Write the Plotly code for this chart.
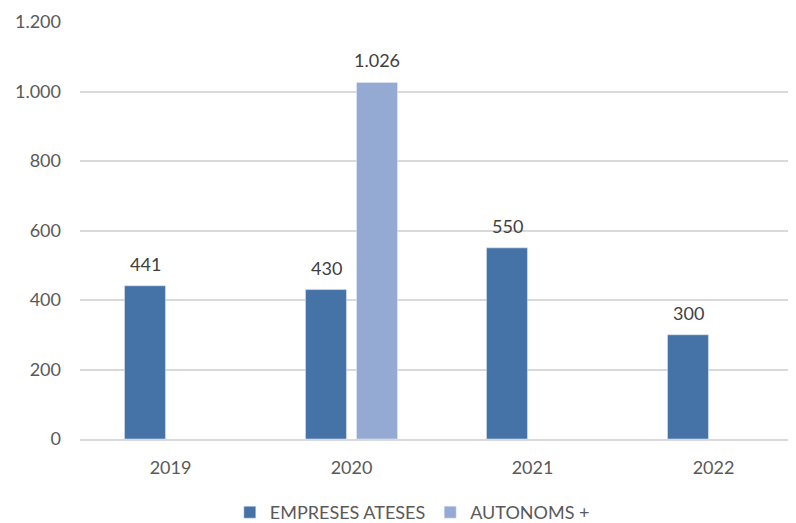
import plotly.graph_objects as go

categories = ["2019", "2020", "2021", "2022"]
empreses = [441, 430, 550, 300]
autonoms = [None, 1026, None, None]
series_names = ["EMPRESES ATESES", "AUTONOMS +"]
y_ticks = [0, 200, 400, 600, 800, 1000, 1200]

C1 = "#4673A7"
C2 = "#94AAD2"
FONT = "Lato"

def fmt(v):
    return f"{v:,}".replace(",", ".")

fig = go.Figure()
fig.add_trace(go.Bar(x=categories, y=empreses, name=series_names[0], marker_color=C1))
fig.add_trace(go.Bar(x=categories, y=autonoms, name=series_names[1], marker_color=C2))

annotations = []
for vals, shift in ((empreses, -25.5), (autonoms, 25.5)):
    for i, v in enumerate(vals):
        if v is None:
            continue
        annotations.append(dict(x=i, y=v, xref="x", yref="y", text=fmt(v), showarrow=False,
                                xshift=shift, yshift=22, yanchor="middle",
                                font=dict(family=FONT, size=18, color="#404040")))

# the page body has an 8px default margin; margins compensate for it
fig.update_layout(
    width=796, height=523,
    margin=dict(l=72, r=0, t=14, b=91),
    paper_bgcolor="white", plot_bgcolor="white",
    barmode="group", bargap=0.436, bargroupgap=0.197,
    separators=",.",
    font=dict(family=FONT, size=18, color="#595959"),
    annotations=annotations,
    legend=dict(orientation="h", x=0.459, xanchor="center", y=-0.175, yanchor="middle",
                font=dict(family=FONT, size=18, color="#595959"), itemwidth=30,
                traceorder="normal"),
    showlegend=True,
)
fig.update_xaxes(type="category", range=[-0.5, 3.5], showgrid=False, showline=True,
                 linecolor="#D9D9D9", linewidth=1.5, ticks="", ticklabelstandoff=12,
                 tickfont=dict(family=FONT, size=18, color="#595959"))
fig.update_yaxes(range=[0, 1200], tickvals=y_ticks, ticktext=[fmt(t) for t in y_ticks],
                 showgrid=True, gridcolor="#D9D9D9", gridwidth=1.5, zeroline=False,
                 showline=False, ticks="", ticklabelstandoff=18,
                 tickfont=dict(family=FONT, size=18, color="#595959"))

fig.write_html("out.html")
